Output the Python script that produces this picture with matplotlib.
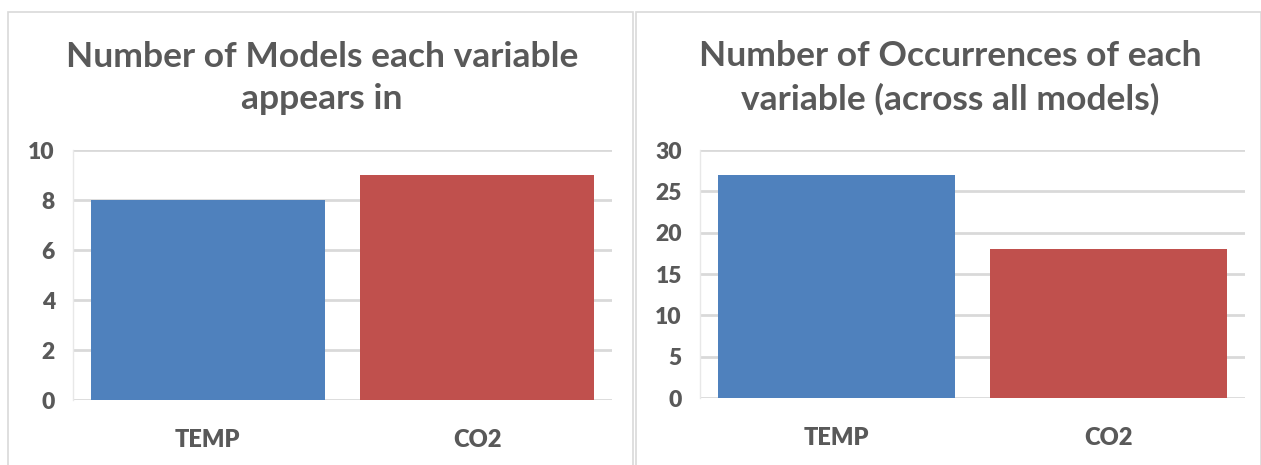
import matplotlib
matplotlib.use("Agg")
import matplotlib.pyplot as plt
from matplotlib.patches import Rectangle

W, H = 1261, 465

categories = ["TEMP", "CO2"]
models_per_var = [8, 9]
occurrences = [27, 18]
bar_colors = ["#4F81BD", "#C0504D"]

title_left = "Number of Models each variable\nappears in"
title_right = "Number of Occurrences of each\nvariable (across all models)"

TXT = "#595959"
GRID = "#D9D9D9"
plt.rcParams["font.family"] = ["Lato", "DejaVu Sans"]


def px_axes(fig, x0, y0, x1, y1):
    # pixel box (top-left origin) -> figure fraction
    return fig.add_axes([x0 / W, (H - y1) / H, (x1 - x0) / W, (y1 - y0) / H])


def draw_panel(ax, values, ymax, step):
    ax.bar(range(len(categories)), values, width=0.87, color=bar_colors, zorder=3)
    ax.set_xlim(-0.5, len(categories) - 0.5)
    ax.set_ylim(0, ymax)
    ax.set_yticks(range(0, ymax + 1, step))
    ax.set_xticks(range(len(categories)))
    ax.set_xticklabels(categories)
    ax.grid(axis="y", color=GRID, lw=2, zorder=0)
    for s in ["top", "right", "bottom"]:
        ax.spines[s].set_visible(False)
    ax.spines["left"].set_color("#E8E8E8")
    ax.spines["left"].set_linewidth(1)
    ax.tick_params(length=0, colors=TXT)
    ax.tick_params(axis="y", pad=13, labelsize=16.5)
    ax.tick_params(axis="x", pad=21, labelsize=17)
    for lab in ax.get_xticklabels() + ax.get_yticklabels():
        lab.set_fontweight("heavy")
    ax.set_facecolor("none")


fig = plt.figure(figsize=(W / 100, H / 100), dpi=100)

# panel borders
for x0, x1 in [(8, 633), (636, 1261)]:
    fig.patches.append(Rectangle((x0 / W, -0.05), (x1 - x0) / W, (H - 12) / H + 0.05,
                                 transform=fig.transFigure, fill=False,
                                 edgecolor=GRID, lw=1.2))

ax1 = px_axes(fig, 73, 150, 612, 400)
draw_panel(ax1, models_per_var, 10, 2)
ax2 = px_axes(fig, 700, 150, 1245, 398)
draw_panel(ax2, occurrences, 30, 5)

fig.text(322 / W, 1 - 78 / H, title_left, ha="center", va="center",
         fontsize=25.5, fontweight="bold", color=TXT, linespacing=1.4)
fig.text(950 / W, 1 - 78 / H, title_right, ha="center", va="center",
         fontsize=25.5, fontweight="bold", color=TXT, linespacing=1.4)

fig.savefig("out.png", dpi=100, facecolor="white")
